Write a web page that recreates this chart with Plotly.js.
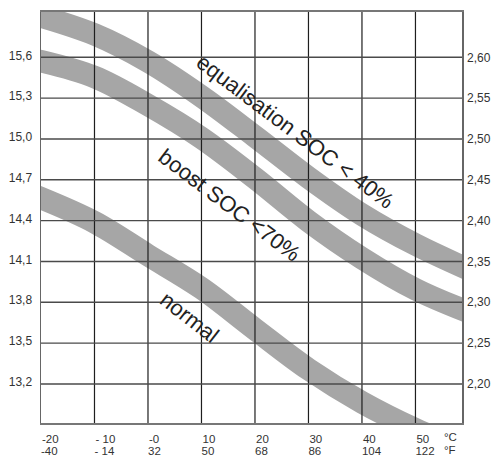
<!DOCTYPE html>
<html>
<head>
<meta charset="utf-8">
<script src="https://cdn.plot.ly/plotly-3.0.1.min.js"></script>
<style>html,body{margin:0;padding:0;background:#fff;overflow:hidden}</style>
</head>
<body>
<div id="chart" style="width:500px;height:457px"></div>
<script>
// ---- data ----
const tempC = [-20, -10, 0, 10, 20, 30, 40, 50, 60];
const equalisation = [15.900, 15.768, 15.569, 15.312, 15.018, 14.716, 14.444, 14.224, 14.040];
const boost        = [15.571, 15.455, 15.249, 15.007, 14.712, 14.396, 14.124, 13.896, 13.727];
const normal       = [14.565, 14.388, 14.146, 13.903, 13.602, 13.308, 13.065, 12.867, 12.705];

const celsiusTicks = [-20, -10, 0, 10, 20, 30, 40, 50];
const celsiusLabels = ["-20", "- 10", "-0", "10", "20", "30", "40", "50"];
const fahrenheitLabels = ["-40", "- 14", "32", "50", "68", "86", "104", "122"];
const unitLabels = ["°C", "°F"];

const voltTicks = [13.2, 13.5, 13.8, 14.1, 14.4, 14.7, 15.0, 15.3, 15.6];
const voltLabels = ["13,2", "13,5", "13,8", "14,1", "14,4", "14,7", "15,0", "15,3", "15,6"];
const cellTicks = [2.20, 2.25, 2.30, 2.35, 2.40, 2.45, 2.50, 2.55, 2.60];
const cellLabels = ["2,20", "2,25", "2,30", "2,35", "2,40", "2,45", "2,50", "2,55", "2,60"];

const bandNames = ["equalisation SOC < 40%", "boost SOC <70%", "normal"];
const cellsPerBattery = 6;

// ---- styling ----
const BAND = '#a6a6a6';
const FONT = 'Liberation Sans, Arial, sans-serif';
const xRange = [-20, 58.7];
const voltRange = [12.913, 15.933];
const cellRange = voltRange.map(v => v / cellsPerBattery);

function band(y) {
  return {x: tempC, y: y, type: 'scatter', mode: 'lines',
    line: {color: BAND, width: 22.5, shape: 'spline', smoothing: 1},
    hoverinfo: 'skip', showlegend: false};
}
const traces = [band(equalisation), band(boost), band(normal),
  {x: [], y: [], xaxis: 'x2', yaxis: 'y', type: 'scatter', mode: 'lines', showlegend: false},
  {x: [], y: [], xaxis: 'x', yaxis: 'y2', type: 'scatter', mode: 'lines', showlegend: false}];

const shapes = [];
celsiusTicks.slice(1).forEach(t => shapes.push({type: 'line', layer: 'above', xref: 'x', yref: 'paper',
  x0: t, x1: t, y0: 0, y1: 1, line: {color: '#1e1e1e', width: 1.2}}));
voltTicks.forEach(v => shapes.push({type: 'line', layer: 'above', xref: 'paper', yref: 'y',
  x0: 0, x1: 1, y0: v, y1: v, line: {color: '#4a4a4a', width: 1.4}}));

const labelStyle = {showarrow: false, font: {family: FONT, size: 22, color: '#222'}, xanchor: 'center', yanchor: 'middle'};
const bottomFont = {family: FONT, size: 11.5, color: '#333'};
const annotations = [
  Object.assign({x: 27.5, y: 15.055, text: bandNames[0], textangle: 37}, labelStyle),
  Object.assign({x: 15.3, y: 14.51, text: bandNames[1], textangle: 37}, labelStyle),
  Object.assign({x: 7.8, y: 13.69, text: bandNames[2], textangle: 38}, labelStyle),
  {x: 55.1, xref: 'x', y: 0, yref: 'paper', yanchor: 'top', xanchor: 'left', yshift: -7, showarrow: false,
   text: unitLabels[0], font: bottomFont, borderpad: 0},
  {x: 55.1, xref: 'x', y: 0, yref: 'paper', yanchor: 'top', xanchor: 'left', yshift: -20, showarrow: false,
   text: unitLabels[1], font: bottomFont, borderpad: 0}
];

const tickFont = {family: FONT, size: 12, color: '#333'};
const layout = {
  width: 500, height: 457,
  margin: {l: 41, r: 38, t: 12, b: 34, pad: 0},
  paper_bgcolor: '#fff', plot_bgcolor: '#fff',
  showlegend: false,
  font: {family: FONT, color: '#333'},
  xaxis: {range: xRange, tickmode: 'array', tickvals: celsiusTicks, ticktext: celsiusLabels,
    ticks: '', showgrid: false, zeroline: false, showline: true, linecolor: '#777', linewidth: 2, mirror: true,
    ticklabelposition: 'outside right', ticklabelstandoff: 4, tickfont: bottomFont, tickangle: 0},
  xaxis2: {range: xRange, overlaying: 'x', anchor: 'y', side: 'bottom', tickmode: 'array',
    tickvals: celsiusTicks, ticktext: fahrenheitLabels, ticks: '', showgrid: false, zeroline: false,
    showline: false, ticklabelposition: 'outside right', ticklabelstandoff: 19, tickfont: bottomFont, tickangle: 0},
  yaxis: {range: voltRange, tickmode: 'array', tickvals: voltTicks, ticktext: voltLabels,
    ticks: '', showgrid: false, zeroline: false, showline: true, linecolor: '#666', linewidth: 1.5, mirror: true,
    ticklabelstandoff: 5, ticklabelshift: -2, tickfont: tickFont},
  yaxis2: {range: cellRange, overlaying: 'y', side: 'right', anchor: 'x', tickmode: 'array',
    tickvals: cellTicks, ticktext: cellLabels, ticks: '', showgrid: false, zeroline: false, showline: false,
    ticklabelstandoff: 4, tickfont: tickFont},
  shapes: shapes,
  annotations: annotations
};

Plotly.newPlot('chart', traces, layout, {displayModeBar: false, staticPlot: true}).then(() => {
  document.querySelectorAll('.scatterlayer .js-line').forEach(p => { p.style.strokeLinecap = 'square'; });
});
</script>
</body>
</html>
